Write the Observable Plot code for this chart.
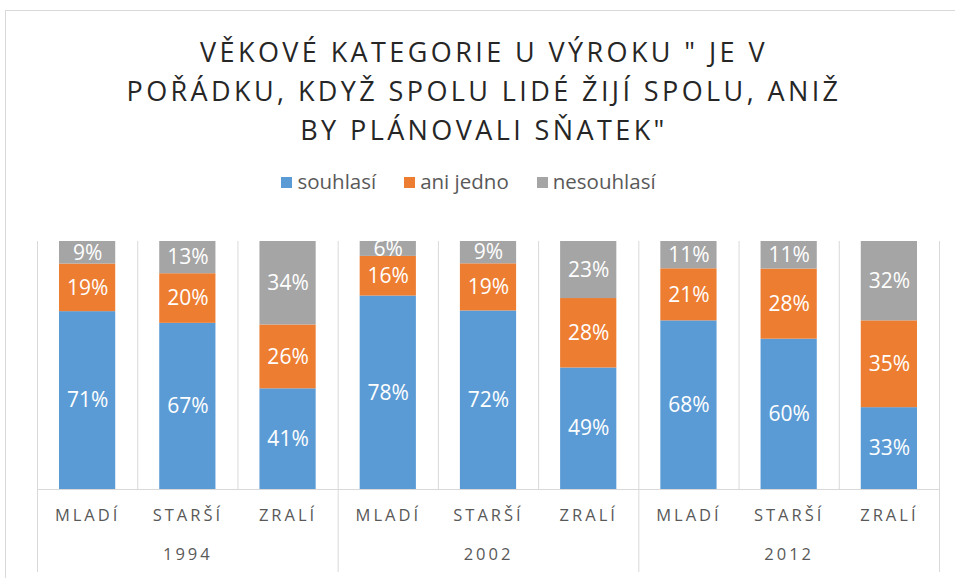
<!DOCTYPE html>
<html>
<head>
<meta charset="utf-8">
<script src="https://cdn.jsdelivr.net/npm/d3@7"></script>
<script src="https://cdn.jsdelivr.net/npm/@observablehq/plot@0.6"></script>
<style>
  html, body { margin: 0; padding: 0; background: #fff; }
  #frame { position: relative; width: 955px; height: 578px; overflow: hidden; font-family: "Open Sans", sans-serif; }
  #border { position: absolute; left: 5px; top: 10px; width: 980px; height: 600px; border: 1px solid #d9d9d9; box-sizing: border-box; }
  #title { position: absolute; left: 0; top: 32px; width: 968px; text-align: center; font-size: 27px; font-weight: 400; letter-spacing: 3.4px; line-height: 39px; color: #262626; }
  #legend { position: absolute; left: 0; top: 167px; width: 937px; text-align: center; font-size: 20.5px; color: #595959; }
  #legend span.item { display: inline-block; margin: 0 14px; }
  #legend span.sw { display: inline-block; width: 11px; height: 11px; margin-right: 5px; vertical-align: 1px; }
  #chart { position: absolute; left: 0; top: 230px; }
  #chart g[aria-label="x-axis tick label"] text { letter-spacing: 3px; }
</style>
</head>
<body>
<div id="frame">
  <div id="border"></div>
  <div id="title"></div>
  <div id="legend"></div>
  <div id="chart"></div>
</div>
<script>
const years = ["1994", "2002", "2012"];
const ages = ["MLADÍ", "STARŠÍ", "ZRALÍ"];
const series = ["souhlasí", "ani jedno", "nesouhlasí"];
const souhlasi   = [71, 67, 41, 78, 72, 49, 68, 60, 33];
const aniJedno   = [19, 20, 26, 16, 19, 28, 21, 28, 35];
const nesouhlasi = [ 9, 13, 34,  6,  9, 23, 11, 11, 32];
const colors = ["#5B9BD5", "#ED7D31", "#A5A5A5"];
const titleLines = [
  "VĚKOVÉ KATEGORIE U VÝROKU \" JE V",
  "POŘÁDKU, KDYŽ SPOLU LIDÉ ŽIJÍ SPOLU, ANIŽ",
  "BY PLÁNOVALI SŇATEK\""
];

// title
document.getElementById("title").innerHTML = titleLines.map(t => `<div>${t.replace(/&/g,"&amp;").replace(/</g,"&lt;")}</div>`).join("");
// legend
document.getElementById("legend").innerHTML = series.map((s, k) =>
  `<span class="item"><span class="sw" style="background:${colors[k]}"></span>${s}</span>`).join("");

// data
const values = [souhlasi, aniJedno, nesouhlasi];
const data = [];
years.forEach((yr, g) => ages.forEach((age, a) => {
  const i = g * ages.length + a;
  series.forEach((s, k) => data.push({i, year: yr, age, series: s, value: values[k][i]}));
}));
const n = years.length * ages.length;
const innerBounds = d3.range(0, n + 1).filter(b => b % ages.length !== 0);
const groupBounds = d3.range(0, n + 1).filter(b => b % ages.length === 0);
const mids = d3.range(n).map(i => i + 0.5);
const groupMids = years.map((y, g) => g * ages.length + ages.length / 2);

const chart = Plot.plot({
  width: 955,
  height: 350,
  marginLeft: 37,
  marginRight: 16,
  marginTop: 11,
  marginBottom: 91,
  style: { fontFamily: "Open Sans, sans-serif", background: "transparent" },
  x: { domain: [0, n], axis: null, label: null },
  y: { domain: [0, 1], axis: null, label: null },
  color: { domain: series, range: colors },
  marks: [
    Plot.ruleX(innerBounds, { stroke: "#d9d9d9", strokeWidth: 1 }),
    Plot.ruleX(groupBounds, { stroke: "#d9d9d9", strokeWidth: 1, insetBottom: -83 }),
    Plot.rectY(data, Plot.stackY({
      x1: "i", x2: d => d.i + 1, y: "value", fill: "series",
      offset: "normalize", insetLeft: 22, insetRight: 22
    })),
    Plot.text(data, Plot.stackY({
      x: d => d.i + 0.5, y: "value", z: "series", offset: "normalize",
      text: d => d.value + "%", fill: "white", fontSize: 21
    })),
    Plot.ruleY([0], { stroke: "#d9d9d9" }),
    Plot.axisX({
      ticks: mids, tickFormat: v => ages[Math.floor(v) % ages.length], label: null,
      tickSize: 0, tickPadding: 20, fontSize: 16.5, color: "#595959"
    }),
    Plot.axisX({
      ticks: groupMids, tickFormat: v => years[Math.floor(v / ages.length)], label: null,
      tickSize: 0, tickPadding: 59, fontSize: 16.5, color: "#595959"
    })
  ]
});
document.getElementById("chart").appendChild(chart);
</script>
</body>
</html>
